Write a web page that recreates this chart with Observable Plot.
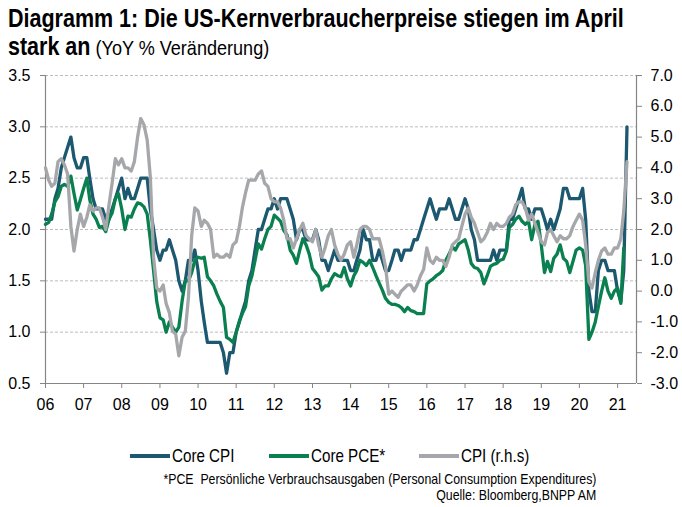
<!DOCTYPE html>
<html>
<head>
<meta charset="utf-8">
<script src="https://cdn.jsdelivr.net/npm/d3@7"></script>
<script src="https://cdn.jsdelivr.net/npm/@observablehq/plot@0.6"></script>
<style>
  html, body { margin: 0; padding: 0; background: #fff; }
  body { width: 682px; height: 507px; position: relative; overflow: hidden;
         font-family: "Liberation Sans", Arial, sans-serif; color: #000; }
  #title { position: absolute; left: 8px; top: 6px; width: 800px; line-height: 25px; white-space: nowrap;
           transform: scaleX(0.86); transform-origin: left top; }
  #title .b { font-weight: bold; font-size: 25px; }
  #title .n { font-size: 21px; }
  #chart { position: absolute; left: 0; top: 62px; }
  #legend { position: absolute; top: 445px; left: 0; width: 682px; height: 22px; font-size: 18.5px; }
  #legend .sw { position: absolute; width: 40px; height: 4px; top: 9px; }
  #legend .tx { position: absolute; top: 0; line-height: 22px; white-space: nowrap; transform: scaleX(0.82); transform-origin: left center; }
  .foot { position: absolute; right: 86px; font-size: 14.5px; white-space: nowrap; transform: scaleX(0.85); transform-origin: right top; }
</style>
</head>
<body>
<div id="title"><span class="b">Diagramm 1: Die US-Kernverbraucherpreise stiegen im April</span><br><span class="b">stark an</span><span class="n"> (YoY % Veränderung)</span></div>
<div id="chart"></div>
<div id="legend"></div>
<div class="foot" style="top:471px">*PCE&nbsp; Persönliche Verbrauchsausgaben (Personal Consumption Expenditures)</div>
<div class="foot" style="top:487px">Quelle: Bloomberg,BNPP AM</div>
<script>
// ---- Data (monthly YoY %, from Jan 2006) ----
const startYear = 2006;
const coreCPI = [
  2.1,2.1,2.1,2.3,2.4,2.6,2.7,2.8,2.9,2.7,2.6,2.6,
  2.7,2.7,2.5,2.3,2.2,2.2,2.2,2.1,2.1,2.2,2.3,2.4,
  2.5,2.3,2.4,2.3,2.3,2.4,2.5,2.5,2.5,2.2,2.0,1.8,
  1.7,1.8,1.8,1.9,1.8,1.7,1.5,1.4,1.5,1.7,1.7,1.8,
  1.6,1.3,1.1,0.9,0.9,0.9,0.9,0.9,0.8,0.6,0.8,0.8,
  1.0,1.1,1.2,1.3,1.5,1.6,1.8,2.0,2.0,2.1,2.2,2.2,
  2.3,2.2,2.3,2.3,2.3,2.2,2.1,1.9,2.0,2.0,1.9,1.9,
  1.9,2.0,1.9,1.7,1.7,1.6,1.7,1.8,1.7,1.7,1.7,1.7,
  1.6,1.6,1.7,1.8,2.0,1.9,1.9,1.7,1.7,1.8,1.7,1.6,
  1.6,1.7,1.8,1.8,1.7,1.8,1.8,1.8,1.9,1.9,2.0,2.1,
  2.2,2.3,2.2,2.1,2.2,2.2,2.2,2.3,2.2,2.1,2.1,2.2,
  2.3,2.2,2.0,1.9,1.7,1.7,1.7,1.7,1.7,1.8,1.7,1.8,
  1.8,1.8,2.1,2.1,2.2,2.3,2.4,2.2,2.2,2.1,2.2,2.2,
  2.2,2.1,2.0,2.1,2.0,2.1,2.2,2.4,2.4,2.3,2.3,2.3,
  2.3,2.4,2.1,1.4,1.2,1.2,1.6,1.7,1.7,1.6,1.6,1.6,
  1.4,1.3,1.6,3.0
];
const corePCE = [
  2.05,2.07,2.15,2.27,2.32,2.42,2.44,2.42,2.52,2.35,2.19,2.29,
  2.40,2.50,2.29,2.15,2.10,2.02,2.03,1.98,2.10,2.16,2.30,2.35,
  2.20,2.00,2.13,2.12,2.20,2.26,2.25,2.22,2.15,1.90,1.60,1.30,
  1.14,1.12,1.00,1.10,1.05,1.00,1.05,1.30,1.50,1.50,1.58,1.70,
  1.73,1.72,1.73,1.54,1.50,1.45,1.37,1.30,1.24,0.95,0.93,0.90,
  1.00,1.11,1.18,1.25,1.45,1.55,1.70,1.86,1.81,1.91,2.00,2.03,
  2.14,2.11,2.08,1.99,1.95,1.80,1.75,1.67,1.80,1.91,1.85,1.76,
  1.62,1.58,1.54,1.41,1.45,1.45,1.52,1.57,1.55,1.54,1.63,1.52,
  1.45,1.55,1.60,1.70,1.68,1.65,1.70,1.63,1.55,1.48,1.41,1.33,
  1.29,1.27,1.27,1.26,1.24,1.20,1.24,1.21,1.20,1.18,1.18,1.18,
  1.47,1.50,1.52,1.55,1.57,1.60,1.70,1.76,1.83,1.80,1.86,1.88,
  1.90,1.80,1.67,1.63,1.62,1.58,1.47,1.55,1.64,1.66,1.67,1.70,
  1.71,1.79,2.02,2.05,2.10,2.13,2.08,2.05,2.08,1.90,2.05,2.08,
  1.85,1.58,1.69,1.59,1.72,1.76,1.85,1.72,1.69,1.58,1.69,1.80,
  1.82,1.80,1.65,0.93,1.00,1.10,1.25,1.40,1.53,1.40,1.33,1.40,
  1.43,1.28,1.82
];
const cpi = [
  4.0,3.6,3.4,3.5,4.2,4.3,4.1,3.8,2.1,1.3,2.0,2.5,
  2.1,2.4,2.8,2.6,2.7,2.7,2.4,2.0,2.8,3.5,4.3,4.1,
  4.3,4.0,4.0,3.9,4.2,5.0,5.6,5.4,4.9,3.7,1.1,0.1,
  0.0,0.2,-0.4,-0.7,-1.3,-1.4,-2.1,-1.5,-1.3,-0.2,1.8,2.7,
  2.6,2.1,2.3,2.2,2.0,1.1,1.2,1.1,1.1,1.2,1.1,1.5,
  1.6,2.1,2.7,3.2,3.6,3.6,3.6,3.8,3.9,3.5,3.4,3.0,
  2.9,2.9,2.7,2.3,1.7,1.7,1.4,1.7,2.0,2.2,1.8,1.7,
  1.6,2.0,1.5,1.1,1.4,1.8,2.0,1.5,1.2,1.0,1.2,1.5,
  1.6,1.1,1.5,2.0,2.1,2.1,2.0,1.7,1.7,1.7,1.3,0.8,
  -0.1,0.0,-0.1,-0.2,0.0,0.1,0.2,0.2,0.0,0.2,0.5,0.7,
  1.4,1.0,0.9,1.1,1.0,1.0,0.8,1.1,1.5,1.6,1.7,2.1,
  2.5,2.7,2.4,2.2,1.9,1.6,1.7,1.9,2.2,2.0,2.2,2.1,
  2.1,2.2,2.4,2.5,2.8,2.9,2.9,2.7,2.3,2.5,2.2,1.9,
  1.6,1.5,1.9,2.0,1.8,1.6,1.8,1.7,1.7,1.8,2.1,2.3,
  2.5,2.3,1.5,0.3,0.1,0.6,1.0,1.3,1.4,1.2,1.2,1.4,
  1.4,1.7,2.6,4.2
];
const seriesNames = ["Core CPI", "Core PCE*", "CPI (r.h.s)"];
const seriesColors = ["#1C5870", "#0A8050", "#A5A7AA"];
const leftTicks = [0.5, 1.0, 1.5, 2.0, 2.5, 3.0, 3.5];
const rightTicks = [-3, -2, -1, 0, 1, 2, 3, 4, 5, 6, 7];
const yearLabels = ["06","07","08","09","10","11","12","13","14","15","16","17","18","19","20","21"];

// ---- Mapping right axis (CPI) onto left scale ----
const rMin = -3, rMax = 7, lMin = 0.5, lMax = 3.5;
const toLeft = r => lMin + (r - rMin) * (lMax - lMin) / (rMax - rMin);
const toRight = l => rMin + (l - lMin) * (rMax - rMin) / (lMax - lMin);

const monthDate = i => new Date(Date.UTC(startYear, i, 1));
const rows = (arr, name, f = v => v) => arr.map((v, i) => ({date: monthDate(i), value: f(v), series: name}));
const dCore = rows(coreCPI, seriesNames[0]);
const dPCE = rows(corePCE, seriesNames[1]);
const dCPI = rows(cpi, seriesNames[2], toLeft);

const xStart = new Date(Date.UTC(2006, 0, 1));
const xEnd = new Date(Date.UTC(2021, 6, 1));
const yearTicks = yearLabels.map((_, i) => new Date(Date.UTC(startYear + i, 0, 1)));

const axisGrey = "#858585";
const chart = Plot.plot({
  width: 682,
  height: 358,
  marginLeft: 45,
  marginRight: 46,
  marginTop: 13,
  marginBottom: 37,
  style: {fontFamily: '"Liberation Sans", Arial, sans-serif', fontSize: "16px", color: "#000", background: "#fff"},
  x: {type: "utc", domain: [xStart, xEnd]},
  y: {domain: [lMin, lMax]},
  marks: [
    Plot.ruleY(leftTicks.filter(d => d > lMin), {stroke: "#BDBDBD", strokeDasharray: "3,2", strokeWidth: 1}),
    Plot.ruleX([xStart], {stroke: axisGrey, strokeWidth: 1.2}),
    Plot.ruleX([xEnd], {stroke: axisGrey, strokeWidth: 1.2}),
    Plot.ruleY([lMin], {stroke: axisGrey, strokeWidth: 1.2}),
    Plot.axisY(leftTicks, {anchor: "left", tickSize: 5, tickPadding: 10, stroke: axisGrey, tickFormat: d => d.toFixed(1), label: null}),
    Plot.axisY(rightTicks.map(toLeft), {anchor: "right", tickSize: 5, tickPadding: 9, stroke: axisGrey, tickFormat: d => (Math.round(toRight(d) * 10) / 10).toFixed(1), label: null}),
    Plot.axisX(yearTicks, {anchor: "bottom", tickSize: 5, tickPadding: 10, stroke: axisGrey, tickFormat: (d, i) => yearLabels[i], label: null}),
    Plot.line(dCore, {x: "date", y: "value", stroke: seriesColors[0], strokeWidth: 3.3, strokeLinejoin: "round"}),
    Plot.line(dPCE, {x: "date", y: "value", stroke: seriesColors[1], strokeWidth: 3.3, strokeLinejoin: "round"}),
    Plot.line(dCPI, {x: "date", y: "value", stroke: seriesColors[2], strokeWidth: 3.3, strokeLinejoin: "round"})
  ]
});
document.getElementById("chart").appendChild(chart);

// ---- Legend ----
const legend = document.getElementById("legend");
const swatchLeft = [130, 269, 419];
seriesNames.forEach((name, i) => {
  const sw = document.createElement("span");
  sw.className = "sw";
  sw.style.left = swatchLeft[i] + "px";
  sw.style.background = seriesColors[i];
  const t = document.createElement("span");
  t.className = "tx";
  t.style.left = (swatchLeft[i] + 42) + "px";
  t.textContent = name;
  legend.appendChild(sw);
  legend.appendChild(t);
});
</script>
</body>
</html>
